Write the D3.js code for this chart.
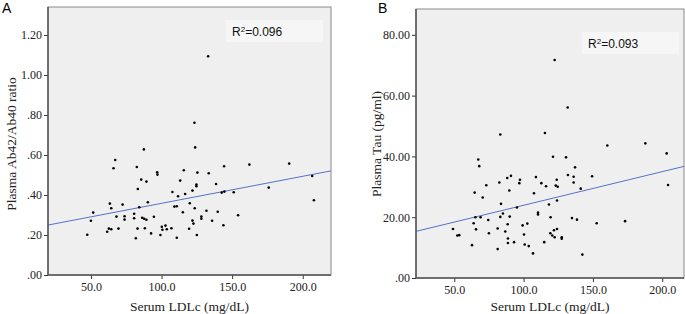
<!DOCTYPE html>
<html>
<head>
<meta charset="utf-8">
<script src="https://cdn.jsdelivr.net/npm/d3@7"></script>
<style>
  body { margin: 0; background: #fff; }
  svg { display: block; }
  .tick text { font-family: "Liberation Serif", serif; font-size: 12px; fill: #222; }
  .tick line { stroke: #333; }
  .title { font-family: "Liberation Serif", serif; font-size: 13.5px; fill: #222; }
  .panel { font-family: "Liberation Sans", sans-serif; font-size: 14px; fill: #000; }
  .r2 { font-family: "Liberation Sans", sans-serif; font-size: 12px; fill: #111; }
</style>
</head>
<body>
<svg width="685" height="314"></svg>
<script>
// Panel A: serum LDLc vs plasma Ab42/Ab40 ratio
var ldlA = [133.0, 123.3, 87.5, 123.8, 67.2, 66.0, 82.5, 85.6, 89.3, 83.2, 96.9, 97.1, 115.8, 125.4, 133.4, 113.2,
  138.6, 124.7, 124.7, 144.3, 162.2, 190.4, 206.7, 207.9, 175.9, 151.1, 142.6, 144.5, 107.7, 121.9, 111.7, 116.7,
  90.3, 109.1, 110.8, 120.0, 123.5, 115.1, 131.8, 139.8, 154.2, 128.2, 128.2, 135.8, 121.9, 122.6, 143.8, 63.4,
  64.4, 72.4, 84.2, 51.6, 50.0, 68.1, 73.8, 73.8, 80.6, 80.6, 86.3, 87.7, 89.3, 94.6, 62.7, 64.4, 69.5, 61.5,
  47.4, 83.0, 88.2, 92.6, 81.8, 100.2, 100.6, 102.8, 103.7, 107.0, 99.2, 110.8, 119.5, 125.0];
var ratioA = [1.094, .761, .628, .638, .575, .534, .540, .477, .467, .430, .514, .502, .524, .512, .509, .472,
  .455, .452, .444, .544, .552, .557, .495, .374, .437, .414, .412, .417, .415, .422, .394, .405,
  .364, .342, .344, .359, .334, .314, .321, .316, .299, .292, .281, .271, .272, .257, .249, .357,
  .334, .352, .339, .312, .271, .292, .294, .277, .306, .284, .286, .281, .276, .291, .232, .229, .232, .216,
  .201, .232, .234, .208, .184, .241, .226, .247, .229, .234, .200, .186, .231, .200];

// Panel B: serum LDLc vs plasma tau
var ldlB = [122.4, 131.8, 83.2, 115.4, 160.4, 187.8, 203.2, 121.2, 130.6, 67.3, 68.0, 137.1, 64.7, 73.1, 70.5, 82.5,
  88.2, 90.9, 97.4, 96.9, 89.7, 108.9, 112.8, 116.2, 107.5, 123.9, 123.2, 124.6, 132.0, 136.1, 136.1, 149.4,
  141.2, 124.1, 118.3, 83.7, 95.2, 85.1, 83.2, 90.0, 110.4, 110.4, 119.5, 65.2, 69.0, 74.5, 64.0, 49.1,
  52.2, 53.6, 65.7, 75.0, 81.3, 86.8, 88.5, 99.3, 102.7, 100.3, 88.7, 88.7, 93.1, 100.8, 103.7, 62.8,
  81.3, 106.8, 114.9, 119.3, 120.7, 122.4, 121.9, 124.1, 127.5, 127.5, 134.9, 138.5, 152.7, 173.2, 142.4, 204.2];
var tauB = [71.7, 56.1, 47.2, 47.7, 43.6, 44.3, 41.0, 39.9, 39.7, 39.0, 36.8, 36.4, 28.1, 30.5, 26.5, 31.4,
  32.9, 33.6, 32.3, 31.2, 28.8, 33.2, 31.2, 30.2, 27.9, 32.3, 30.4, 30.0, 33.9, 33.3, 31.4, 33.5,
  29.4, 25.5, 24.2, 24.4, 23.2, 21.2, 20.1, 20.2, 21.5, 20.9, 20.0, 20.0, 20.0, 19.1, 18.0, 16.1,
  14.0, 14.1, 16.0, 14.7, 16.3, 15.3, 17.7, 17.3, 17.9, 14.3, 13.0, 11.5, 11.8, 11.0, 10.5, 10.8,
  9.5, 8.1, 11.8, 14.7, 14.0, 13.4, 15.7, 16.1, 13.4, 12.9, 19.7, 19.2, 18.0, 18.7, 7.7, 30.6];

var xTicks = [50, 100, 150, 200];
var yTicksA = [0, .2, .4, .6, .8, 1.0, 1.2];
var yTicksB = [0, 20, 40, 60, 80];
var r2Labels = ["0.096", "0.093"];

var svg = d3.select("svg");

function fit(xs, ys) {
  var mx = d3.mean(xs), my = d3.mean(ys);
  var sxy = d3.sum(xs, function (x, i) { return (x - mx) * (ys[i] - my); });
  var sxx = d3.sum(xs, function (x) { return (x - mx) * (x - mx); });
  var b = sxy / sxx;
  return { a: my - b * mx, b: b };
}

function fmt(v) {
  var s = d3.format(".2f")(v);
  return s.replace(/^0\./, ".");
}

function drawPanel(o) {
  var x = d3.scaleLinear().domain(o.xDomain).range([o.left, o.right]);
  var y = d3.scaleLinear().domain(o.yDomain).range([o.bottom, o.top]);
  var g = svg.append("g");

  g.append("rect")
    .attr("x", o.left).attr("y", o.top)
    .attr("width", o.right - o.left).attr("height", o.bottom - o.top)
    .attr("fill", "#efefef")
    .attr("stroke", "#8a8a8a");

  // R² box
  g.append("rect")
    .attr("x", o.boxX).attr("y", o.boxY)
    .attr("width", 97).attr("height", 22)
    .attr("fill", "#f6f6f6");
  var t = g.append("text").attr("class", "r2")
    .attr("x", o.boxX + 6).attr("y", o.boxY + 16);
  t.append("tspan").text("R");
  t.append("tspan").attr("dy", -4).attr("font-size", "8px").text("2");
  t.append("tspan").attr("dy", 4).text("=" + o.r2);

  // fit line
  var f = fit(o.xs, o.ys);
  g.append("line")
    .attr("x1", x(o.xDomain[0])).attr("y1", y(f.a + f.b * o.xDomain[0]))
    .attr("x2", x(o.xDomain[1])).attr("y2", y(f.a + f.b * o.xDomain[1]))
    .attr("stroke", "#5571c8").attr("stroke-width", 1);

  g.selectAll(".dot")
    .data(o.xs)
    .enter().append("circle")
    .attr("cx", function (d) { return x(d); })
    .attr("cy", function (d, i) { return y(o.ys[i]); })
    .attr("r", 1.3)
    .attr("fill", "#000");

  var ax = g.append("g")
    .attr("transform", "translate(0," + o.bottom + ")")
    .call(d3.axisBottom(x).tickValues(xTicks).tickSize(4).tickPadding(3).tickFormat(d3.format(".1f")));
  ax.select(".domain").remove();

  var ay = g.append("g")
    .attr("transform", "translate(" + o.left + ",0)")
    .call(d3.axisLeft(y).tickValues(o.yTicks).tickSize(4).tickPadding(2).tickFormat(fmt));
  ay.select(".domain").remove();

  g.append("line")
    .attr("x1", o.left).attr("x2", o.left).attr("y1", o.top).attr("y2", o.bottom)
    .attr("stroke", "#555").attr("stroke-width", 1.5);
  g.append("line")
    .attr("x1", o.left).attr("x2", o.right).attr("y1", o.bottom).attr("y2", o.bottom)
    .attr("stroke", "#555").attr("stroke-width", 1.5);

  g.append("text").attr("class", "title")
    .attr("x", (o.left + o.right) / 2).attr("y", 311)
    .attr("text-anchor", "middle")
    .text("Serum LDLc (mg/dL)");

  g.append("text").attr("class", "title")
    .attr("transform", "translate(" + o.yTitleX + "," + 144 + ") rotate(-90)")
    .attr("text-anchor", "middle")
    .text(o.yTitle);

  g.append("text").attr("class", "panel")
    .attr("x", o.labelX).attr("y", 13)
    .text(o.label);
}

drawPanel({
  label: "A", labelX: 2,
  left: 48, right: 331, top: 7, bottom: 275,
  xDomain: [19.6, 220], yDomain: [0, 1.34],
  xs: ldlA, ys: ratioA, yTicks: yTicksA,
  yTitle: "Plasma Ab42/Ab40 ratio", yTitleX: 16,
  boxX: 226, boxY: 20, r2: r2Labels[0]
});

drawPanel({
  label: "B", labelX: 378,
  left: 416, right: 684, top: 9, bottom: 278,
  xDomain: [22.4, 215.7], yDomain: [0, 88.5],
  xs: ldlB, ys: tauB, yTicks: yTicksB,
  yTitle: "Plasma Tau (pg/ml)", yTitleX: 381,
  boxX: 582, boxY: 32, r2: r2Labels[1]
});
</script>
</body>
</html>
